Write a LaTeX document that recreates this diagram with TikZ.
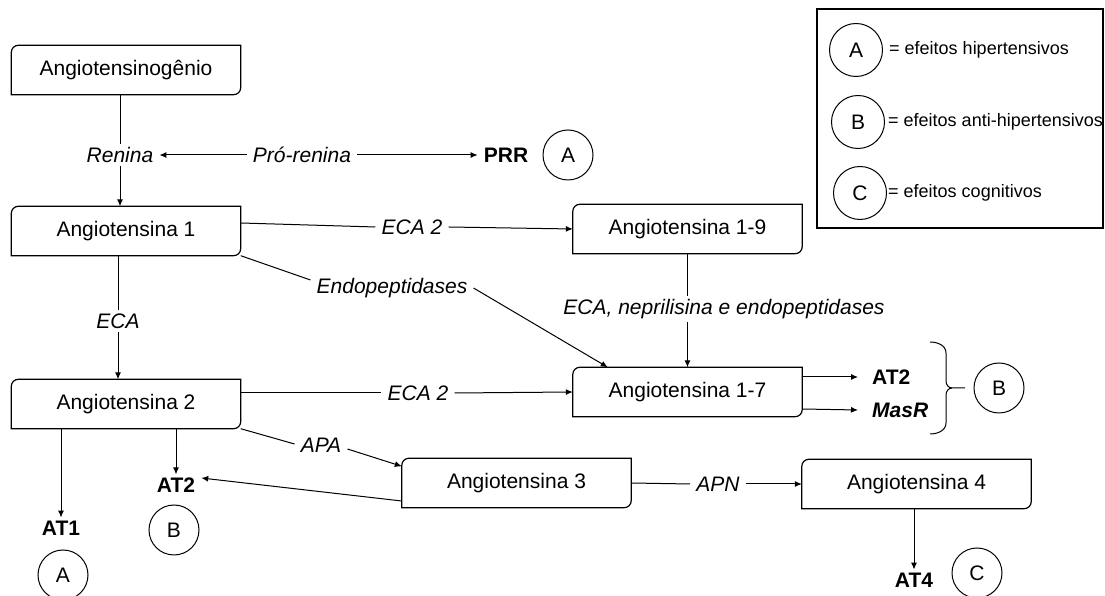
\documentclass[tikz,border=0pt]{standalone}
\usepackage{fontspec}
\setmainfont{Liberation Sans}
\usetikzlibrary{arrows.meta}
\begin{document}
\begin{tikzpicture}[x=1pt,y=1pt,
 every node/.style={font=\fontsize{21}{25}\selectfont},
 box/.style={minimum width=229pt,minimum height=49pt,inner sep=0pt},
 lbl/.style={inner xsep=6pt,inner ysep=3pt},
 it/.style={lbl,font=\fontsize{21}{25}\selectfont\itshape},
 bf/.style={lbl,font=\fontsize{21}{25}\selectfont\bfseries},
 circ/.style={circle,draw,line width=1pt,minimum size=50pt,inner sep=0pt},
 con/.style={line width=1pt},
 arr/.style={con,-{Latex[length=7pt,width=6pt]}},
 frame/.style={line width=1.2pt},
 leg/.style={font=\fontsize{18}{22}\selectfont,anchor=west,inner sep=0pt}]
\useasboundingbox (0,0) rectangle (1105,596);

% boxes
\node[box] (ang) at (126,526) {Angiotensinog\^enio};
\node[box] (a1)  at (126,365) {Angiotensina 1};
\node[box] (a19) at (687.5,367) {Angiotensina 1-9};
\node[box] (a2)  at (126,192) {Angiotensina 2};
\node[box] (a17) at (687.5,204) {Angiotensina 1-7};
\node[box] (a3)  at (516.5,113) {Angiotensina 3};
\node[box] (a4)  at (916.5,112) {Angiotensina 4};
\foreach \n in {ang,a1,a19,a2,a17,a3,a4}{
  \draw[frame] ([yshift=-7pt]\n.north west) arc[start angle=180,end angle=90,radius=7pt]
    -- (\n.north east) -- ([yshift=7pt]\n.south east)
    arc[start angle=0,end angle=-90,radius=7pt] -- (\n.south west) -- cycle;}

% labels
\node[it] (renina) at (120,441) {Renina};
\node[it] (prorenina) at (302,441) {Pr\'o-renina};
\node[bf] (prr) at (506,441) {PRR};
\node[circ] (cA1) at (568,441) {A};
\node[it] (eca2a) at (412,369) {ECA 2};
\node[it] (endo) at (392,308) {Endopeptidases};
\node[it] (nep) at (724,287) {ECA, neprilisina e endopeptidases};
\node[it] (eca) at (118,275) {ECA};
\node[it] (eca2b) at (418,203) {ECA 2};
\node[bf,anchor=west,inner xsep=14pt] (at2r) at (858,219) {AT2};
\node[bf,anchor=west,inner xsep=14pt,font=\fontsize{21}{25}\selectfont\bfseries\itshape] (masr) at (858,186) {MasR};
\node[circ] (cB1) at (999,208) {B};
\node[it] (apa) at (321,151) {APA};
\node[bf] (at2l) at (176,111) {AT2};
\node[circ] (cB2) at (174,66) {B};
\node[bf] (at1) at (61,68) {AT1};
\node[circ] (cA2) at (63,21) {A};
\node[it] (apn) at (718,112) {APN};
\node[bf] (at4) at (914,16) {AT4};
\node[circ] (cC) at (977,23) {C};

% brace
\draw[con] (930,254) to[out=0,in=90] (946,243) -- (946,215) to[out=-90,in=180] (952,208) -- (965,208);
\draw[con] (930,162) to[out=0,in=-90] (946,173) -- (946,201) to[out=90,in=180] (952,208);

% connectors
\draw[con] (renina.north |- ang.south) -- (renina.north);
\draw[arr] (renina.south) -- (renina.south |- a1.north);
\draw[arr] (prorenina.west) -- (renina.east);
\draw[arr] (prorenina.east) -- (prr.west);
\draw[con] ([yshift=8pt]a1.east) -- (eca2a.west);
\draw[arr] (eca2a.east) -- (a19.west);
\draw[con] (a1.south east) -- ([yshift=8pt]endo.west);
\draw[arr] ([yshift=0pt]endo.east) -- ([xshift=35pt]a17.north west);
\draw[con] (a19.south) -- (a19.south |- nep.north);
\draw[arr] (a19.south |- nep.south) -- (a17.north);
\draw[con] (eca.north |- a1.south) -- (eca.north);
\draw[arr] (eca.south) -- (eca.south |- a2.north);
\draw[con] ([yshift=11pt]a2.east) -- (eca2b.west);
\draw[arr] (eca2b.east) -- (a17.west);
\draw[arr] ([yshift=15pt]a17.east) -- (at2r.west);
\draw[arr] ([yshift=-17pt]a17.east) -- (masr.west);
\draw[con] (a2.south east) -- ([yshift=1pt]apa.west);
\draw[arr] ([yshift=-4pt]apa.east) -- ([yshift=-8pt]a3.north west);
\draw[arr] ([yshift=-18pt]a3.west) -- ([yshift=7pt]at2l.east);
\draw[arr] (at2l.north |- a2.south) -- (at2l.north);
\draw[arr] (at1.north |- a2.south) -- (at1.north);
\draw[con] (a3.east) -- (apn.west);
\draw[arr] (apn.east) -- (a4.west);
\draw[arr] (at4.north |- a4.south) -- (at4.north);

% legend
\node[draw,frame,minimum width=286pt,minimum height=219pt] (legend) at (960,477.5) {};
\node[circ,minimum size=53pt] (lA) at (856,546) {A};
\node[circ,minimum size=53pt] (lB) at (858,474) {B};
\node[circ,minimum size=53pt] (lC) at (860,403) {C};
\node[leg] (tA) at (889,546) {= efeitos hipertensivos};
\node[leg] (tB) at (888,474) {= efeitos anti-hipertensivos};
\node[leg] (tC) at (888,403) {= efeitos cognitivos};
\end{tikzpicture}
\end{document}
